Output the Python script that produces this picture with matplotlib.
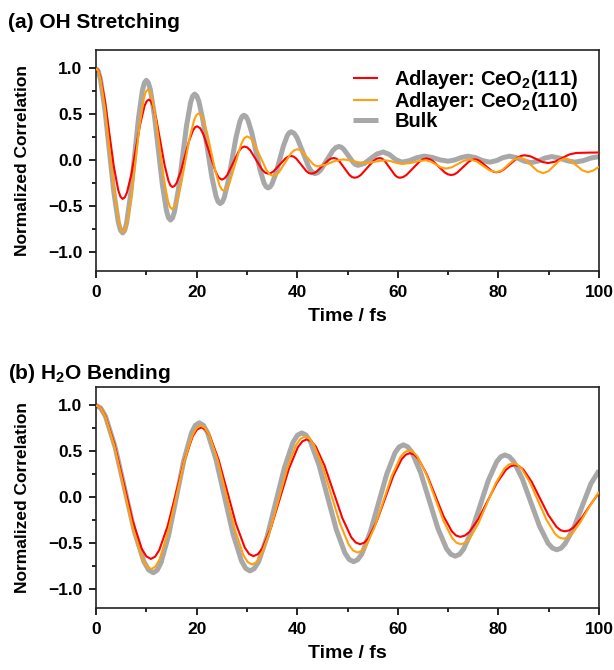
import matplotlib
matplotlib.use("Agg")
import matplotlib.pyplot as plt
from matplotlib.ticker import MultipleLocator

# values, (time / fs, normalized correlation)
# extrema plus intermediate points of each half period

oh_111 = [
    (0, 1.0), (0.442, 0.976), (0.883, 0.905), (1.767, 0.645), (2.65, 0.29), (3.533, -0.065), (4.417, -0.325), (4.858, -0.396),
    (5.3, -0.42), (5.733, -0.402), (6.167, -0.348), (7.033, -0.15), (7.9, 0.12), (8.767, 0.39), (9.633, 0.588), (10.067, 0.642),
    (10.5, 0.66), (10.892, 0.644), (11.283, 0.596), (12.067, 0.423), (12.85, 0.185), (13.633, -0.053), (14.417, -0.226), (14.808, -0.274),
    (15.2, -0.29), (15.608, -0.279), (16.017, -0.246), (16.833, -0.125), (17.65, 0.04), (18.467, 0.205), (19.283, 0.326), (19.692, 0.359),
    (20.1, 0.37), (20.713, 0.348), (21.325, 0.285), (22.55, 0.08), (23.775, -0.125), (24.388, -0.188),
    (25.0, -0.21), (25.563, -0.196), (26.125, -0.157), (27.25, -0.03), (28.375, 0.097), (28.938, 0.136),
    (29.5, 0.15), (30.088, 0.139), (30.675, 0.107), (31.85, 0.003), (33.025, -0.102), (33.613, -0.134),
    (34.2, -0.145), (34.775, -0.138), (35.35, -0.117), (36.5, -0.049), (37.65, 0.019), (38.225, 0.04),
    (38.8, 0.047), (39.3, 0.04), (39.8, 0.019), (40.8, -0.049), (41.8, -0.117), (42.3, -0.138),
    (42.8, -0.145), (43.363, -0.139), (43.925, -0.12), (45.05, -0.06), (46.175, 0.0), (46.738, 0.019),
    (47.3, 0.025), (47.813, 0.017), (48.325, -0.007), (49.35, -0.083), (50.375, -0.159), (50.888, -0.182),
    (51.4, -0.19), (52.025, -0.182), (52.65, -0.159), (53.9, -0.083), (55.15, -0.007), (55.775, 0.017),
    (56.4, 0.025), (56.9, 0.017), (57.4, -0.007), (58.4, -0.083), (59.4, -0.159), (59.9, -0.182),
    (60.4, -0.19), (61.063, -0.182), (61.725, -0.159), (63.05, -0.085), (64.375, -0.011), (65.038, 0.012),
    (65.7, 0.02), (66.313, 0.013), (66.925, -0.006), (68.15, -0.07), (69.375, -0.134), (69.988, -0.153),
    (70.6, -0.16), (71.188, -0.154), (71.775, -0.135), (72.95, -0.075), (74.125, -0.015), (74.713, 0.004),
    (75.3, 0.01), (75.838, 0.005), (76.375, -0.011), (77.45, -0.06), (78.525, -0.109), (79.063, -0.125),
    (79.6, -0.13), (80.3, -0.123), (81.0, -0.103), (82.4, -0.038), (83.8, 0.028), (84.5, 0.048),
    (85.2, 0.055), (86.375, 0.043), (87.55, 0.013), (88.725, -0.018),
    (89.9, -0.03), (91.3, -0.014), (92.7, 0.025), (94.1, 0.064),
    (95.5, 0.08), (97.7, 0.083), (100, 0.085),
]

oh_110 = [
    (0, 1.0), (0.45, 0.97), (0.9, 0.881), (1.8, 0.555), (2.7, 0.11), (3.6, -0.335), (4.5, -0.661), (4.95, -0.75),
    (5.4, -0.78), (5.808, -0.754), (6.217, -0.676), (7.033, -0.393), (7.85, -0.005), (8.667, 0.383), (9.483, 0.666), (9.892, 0.744),
    (10.3, 0.77), (10.7, 0.748), (11.1, 0.683), (11.9, 0.445), (12.7, 0.12), (13.5, -0.205), (14.3, -0.443), (14.7, -0.508),
    (15.1, -0.53), (15.542, -0.512), (15.983, -0.46), (16.867, -0.27), (17.75, -0.01), (18.633, 0.25), (19.517, 0.44), (19.958, 0.492),
    (20.4, 0.51), (20.817, 0.496), (21.233, 0.454), (22.067, 0.3), (22.9, 0.09), (23.733, -0.12), (24.567, -0.274), (24.983, -0.316),
    (25.4, -0.33), (25.975, -0.308), (26.55, -0.244), (27.7, -0.035), (28.85, 0.174), (29.425, 0.238),
    (30.0, 0.26), (30.65, 0.244), (31.3, 0.197), (32.6, 0.045), (33.9, -0.107), (34.55, -0.154),
    (35.2, -0.17), (35.8, -0.159), (36.4, -0.128), (37.6, -0.025), (38.8, 0.078), (39.4, 0.109),
    (40.0, 0.12), (40.513, 0.113), (41.025, 0.093), (42.05, 0.028), (43.075, -0.038), (43.588, -0.058),
    (44.1, -0.065), (45.767, -0.046), (47.433, -0.009),
    (49.1, 0.01), (50.567, 0.0), (52.033, -0.02),
    (53.5, -0.03), (54.833, -0.023), (56.167, -0.008),
    (57.5, 0.0), (58.667, -0.01), (59.833, -0.03),
    (61.0, -0.04), (62.5, -0.03), (64.0, -0.01),
    (65.5, 0.0), (66.525, -0.013), (67.55, -0.045), (68.575, -0.077),
    (69.6, -0.09), (70.775, -0.075), (71.95, -0.04), (73.125, -0.005),
    (74.3, 0.01), (75.625, -0.011), (76.95, -0.06), (78.275, -0.109),
    (79.6, -0.13), (80.75, -0.107), (81.9, -0.05), (83.05, 0.007),
    (84.2, 0.03), (85.375, 0.005), (86.55, -0.055), (87.725, -0.115),
    (88.9, -0.14), (89.975, -0.117), (91.05, -0.06), (92.125, -0.003),
    (93.2, 0.02), (94.35, -0.002), (95.5, -0.055), (96.65, -0.108),
    (97.8, -0.13), (98.9, -0.11), (100, -0.07),
]

oh_bulk = [
    (0, 1.0), (0.442, 0.97), (0.883, 0.88), (1.767, 0.553), (2.65, 0.105), (3.533, -0.343), (4.417, -0.67), (4.858, -0.76),
    (5.3, -0.79), (5.692, -0.762), (6.083, -0.679), (6.867, -0.375), (7.65, 0.04), (8.433, 0.455), (9.217, 0.759), (9.608, 0.842),
    (10.0, 0.87), (10.4, 0.844), (10.8, 0.768), (11.6, 0.49), (12.4, 0.11), (13.2, -0.27), (14.0, -0.548), (14.4, -0.624),
    (14.8, -0.65), (15.2, -0.627), (15.6, -0.558), (16.4, -0.308), (17.2, 0.035), (18.0, 0.378), (18.8, 0.628), (19.2, 0.697),
    (19.6, 0.72), (20.025, 0.7), (20.45, 0.64), (21.3, 0.423), (22.15, 0.125), (23.0, -0.173), (23.85, -0.39), (24.275, -0.45),
    (24.7, -0.47), (25.092, -0.454), (25.483, -0.406), (26.267, -0.23), (27.05, 0.01), (27.833, 0.25), (28.617, 0.426), (29.008, 0.474),
    (29.4, 0.49), (29.8, 0.477), (30.2, 0.437), (31.0, 0.293), (31.8, 0.095), (32.6, -0.103), (33.4, -0.247), (33.8, -0.287),
    (34.2, -0.3), (34.583, -0.29), (34.967, -0.259), (35.733, -0.148), (36.5, 0.005), (37.267, 0.158), (38.033, 0.269), (38.417, 0.3),
    (38.8, 0.31), (39.388, 0.293), (39.975, 0.244), (41.15, 0.083), (42.325, -0.078), (42.913, -0.128),
    (43.5, -0.145), (44.1, -0.134), (44.7, -0.102), (45.9, 0.003), (47.1, 0.107), (47.7, 0.139),
    (48.3, 0.15), (48.775, 0.142), (49.25, 0.12), (50.2, 0.048), (51.15, -0.025), (51.625, -0.047),
    (52.1, -0.055), (53.35, -0.034), (54.6, 0.018), (55.85, 0.069),
    (57.1, 0.09), (58.333, 0.063), (59.567, 0.008),
    (60.8, -0.02), (62.3, -0.004), (63.8, 0.029),
    (65.3, 0.045), (66.867, 0.031), (68.433, 0.004),
    (70.0, -0.01), (71.333, 0.004), (72.667, 0.031),
    (74.0, 0.045), (75.433, 0.029), (76.867, -0.004),
    (78.3, -0.02), (79.6, -0.004), (80.9, 0.029),
    (82.2, 0.045), (83.633, 0.028), (85.067, -0.008),
    (86.5, -0.025), (87.867, -0.009), (89.233, 0.024),
    (90.6, 0.04), (92.133, 0.025), (93.667, -0.005),
    (95.2, -0.02), (96.8, -0.005), (98.4, 0.025), (100, 0.04),
]

bend_111 = [
    (0, 1.0), (0.908, 0.972), (1.817, 0.888), (3.633, 0.583), (5.45, 0.165), (7.267, -0.253), (9.083, -0.558), (9.992, -0.642),
    (10.9, -0.67), (11.733, -0.646), (12.567, -0.574), (14.233, -0.313), (15.9, 0.045), (17.567, 0.403), (19.233, 0.664), (20.067, 0.736),
    (20.9, 0.76), (21.767, 0.736), (22.633, 0.666), (24.367, 0.41), (26.1, 0.06), (27.833, -0.29), (29.567, -0.546), (30.433, -0.616),
    (31.3, -0.64), (32.183, -0.618), (33.067, -0.555), (34.833, -0.323), (36.6, -0.005), (38.367, 0.313), (40.133, 0.545), (41.017, 0.608),
    (41.9, 0.63), (42.783, 0.611), (43.667, 0.554), (45.433, 0.345), (47.2, 0.06), (48.967, -0.225), (50.733, -0.434), (51.617, -0.491),
    (52.5, -0.51), (53.325, -0.493), (54.15, -0.444), (55.8, -0.263), (57.45, -0.015), (59.1, 0.233), (60.75, 0.414), (61.575, 0.463),
    (62.4, 0.48), (63.233, 0.465), (64.067, 0.419), (65.733, 0.253), (67.4, 0.025), (69.067, -0.203), (70.733, -0.369), (71.567, -0.415),
    (72.4, -0.43), (73.308, -0.417), (74.217, -0.378), (76.033, -0.235), (77.85, -0.04), (79.667, 0.155), (81.483, 0.298), (82.392, 0.337),
    (83.3, 0.35), (84.125, 0.338), (84.95, 0.302), (86.6, 0.17), (88.25, -0.01), (89.9, -0.19), (91.55, -0.322), (92.375, -0.358),
    (93.2, -0.37), (94.05, -0.36), (94.9, -0.33), (96.6, -0.22), (98.3, -0.08), (100, 0.05),
]

bend_110 = [
    (0, 1.0), (0.917, 0.97), (1.833, 0.881), (3.667, 0.555), (5.5, 0.11), (7.333, -0.335), (9.167, -0.661), (10.083, -0.75),
    (11.0, -0.78), (11.817, -0.753), (12.633, -0.675), (14.267, -0.39), (15.9, 0.0), (17.533, 0.39), (19.167, 0.675), (19.983, 0.753),
    (20.8, 0.78), (21.65, 0.754), (22.5, 0.679), (24.2, 0.403), (25.9, 0.025), (27.6, -0.353), (29.3, -0.629), (30.15, -0.704),
    (31.0, -0.73), (31.875, -0.706), (32.75, -0.637), (34.5, -0.383), (36.25, -0.035), (38.0, 0.313), (39.75, 0.567), (40.625, 0.636),
    (41.5, 0.66), (42.375, 0.639), (43.25, 0.576), (45.0, 0.345), (46.75, 0.03), (48.5, -0.285), (50.25, -0.516), (51.125, -0.579),
    (52.0, -0.6), (52.85, -0.581), (53.7, -0.526), (55.4, -0.323), (57.1, -0.045), (58.8, 0.233), (60.5, 0.436), (61.35, 0.491),
    (62.2, 0.51), (63.058, 0.493), (63.917, 0.442), (65.633, 0.255), (67.35, 0.0), (69.067, -0.255), (70.783, -0.442), (71.642, -0.493),
    (72.5, -0.51), (73.367, -0.495), (74.233, -0.451), (75.967, -0.29), (77.7, -0.07), (79.433, 0.15), (81.167, 0.311), (82.033, 0.355),
    (82.9, 0.37), (83.733, 0.356), (84.567, 0.315), (86.233, 0.165), (87.9, -0.04), (89.567, -0.245), (91.233, -0.395), (92.067, -0.436),
    (92.9, -0.45), (93.75, -0.437), (94.6, -0.4), (96.3, -0.27), (98.0, -0.11), (100, 0.06),
]

bend_bulk = [
    (0, 1.0), (0.95, 0.969), (1.9, 0.878), (3.8, 0.545), (5.7, 0.09), (7.6, -0.365), (9.5, -0.698), (10.45, -0.789),
    (11.4, -0.82), (12.158, -0.792), (12.917, -0.711), (14.433, -0.413), (15.95, -0.005), (17.467, 0.403), (18.983, 0.701), (19.742, 0.782),
    (20.5, 0.81), (21.342, 0.783), (22.183, 0.702), (23.867, 0.408), (25.55, 0.005), (27.233, -0.398), (28.917, -0.692), (29.758, -0.773),
    (30.6, -0.8), (31.458, -0.775), (32.317, -0.7), (34.033, -0.425), (35.75, -0.05), (37.467, 0.325), (39.183, 0.6), (40.042, 0.675),
    (40.9, 0.7), (41.758, 0.676), (42.617, 0.606), (44.333, 0.35), (46.05, 0.0), (47.767, -0.35), (49.483, -0.606), (50.342, -0.676),
    (51.2, -0.7), (52.025, -0.678), (52.85, -0.615), (54.5, -0.383), (56.15, -0.065), (57.8, 0.253), (59.45, 0.485), (60.275, 0.548),
    (61.1, 0.57), (61.958, 0.549), (62.817, 0.489), (64.533, 0.268), (66.25, -0.035), (67.967, -0.338), (69.683, -0.559), (70.542, -0.619),
    (71.4, -0.64), (72.225, -0.621), (73.05, -0.566), (74.7, -0.365), (76.35, -0.09), (78.0, 0.185), (79.65, 0.386), (80.475, 0.441),
    (81.3, 0.46), (82.158, 0.442), (83.017, 0.391), (84.733, 0.203), (86.45, -0.055), (88.167, -0.313), (89.883, -0.501), (90.742, -0.552),
    (91.6, -0.57), (92.45, -0.553), (93.3, -0.5), (95.0, -0.33), (96.7, -0.09), (98.4, 0.15), (100, 0.29),
]

labels = ["Adlayer: CeO$_2$(111)", "Adlayer: CeO$_2$(110)", "Bulk"]
colors = ["#ff0000", "#ffa010", "#a8a8a8"]
widths = [1.5, 1.5, 3.6]
titles = ["(a) OH Stretching", "(b) H$_2$O Bending"]

plt.rcParams["font.family"] = ["Liberation Sans", "DejaVu Sans"]
plt.rcParams["font.weight"] = "bold"
plt.rcParams["axes.labelweight"] = "bold"
plt.rcParams["mathtext.fontset"] = "custom"
plt.rcParams["mathtext.rm"] = "Liberation Sans:bold"
plt.rcParams["mathtext.it"] = "Liberation Sans:bold"
plt.rcParams["mathtext.bf"] = "Liberation Sans:bold"
plt.rcParams["mathtext.default"] = "rm"


def draw_panel(ax, series, legend=False):
    handles = []
    # bulk first so the adlayer lines sit on top of it
    for idx in (2, 0, 1):
        t, v = zip(*series[idx])
        (ln,) = ax.plot(t, v, color=colors[idx], lw=widths[idx], zorder=2 if idx == 2 else 3,
                        solid_joinstyle="round", solid_capstyle="butt")
        handles.append((idx, ln))
    ax.set_xlim(0, 100)
    ax.set_ylim(-1.2, 1.2)
    ax.xaxis.set_major_locator(MultipleLocator(20))
    ax.xaxis.set_minor_locator(MultipleLocator(10))
    ax.yaxis.set_major_locator(MultipleLocator(0.5))
    ax.yaxis.set_minor_locator(MultipleLocator(0.25))
    ax.tick_params(which="both", direction="out", top=False, right=False, width=1.2)
    ax.tick_params(which="major", length=5, labelsize=12.5, pad=5)
    ax.tick_params(which="minor", length=3)
    for s in ax.spines.values():
        s.set_linewidth(1.2)
        s.set_color("#222222")
    ax.set_xlabel("Time / fs", fontsize=14, labelpad=6)
    ax.set_ylabel("Normalized Correlation", fontsize=12.5, labelpad=13)
    if legend:
        handles.sort(key=lambda h: h[0])
        ax.legend([h[1] for h in handles], labels, loc="upper right", frameon=False,
                  fontsize=14.5, handlelength=1.25, handletextpad=0.8, labelspacing=-0.06,
                  borderaxespad=0.5, bbox_to_anchor=(0.995, 1.0))


def main():
    fig = plt.figure(figsize=(6.14, 6.70), dpi=100)
    ax1 = fig.add_axes([0.1564, 0.596, 0.8192, 0.3295])
    ax2 = fig.add_axes([0.1564, 0.093, 0.8192, 0.3295])

    draw_panel(ax1, [oh_111, oh_110, oh_bulk], legend=True)
    draw_panel(ax2, [bend_111, bend_110, bend_bulk])

    fig.text(0.013, 0.966, titles[0], fontsize=15, ha="left", va="center")
    fig.text(0.013, 0.443, titles[1], fontsize=15, ha="left", va="center")

    fig.savefig("out.png", dpi=100)
    plt.close(fig)


if __name__ == "__main__":
    main()
